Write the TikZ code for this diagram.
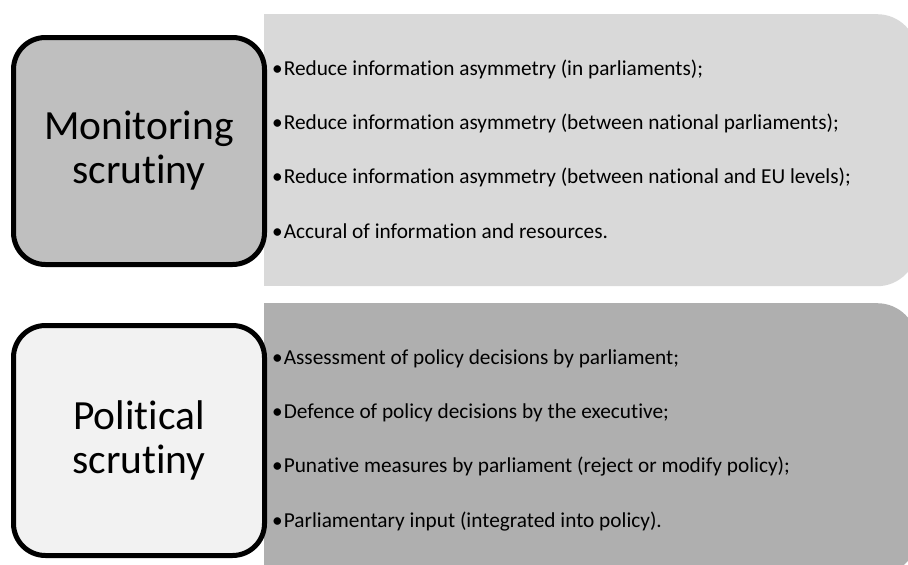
\documentclass[tikz,border=0pt]{standalone}
\usepackage{fontspec}
\setmainfont[Ligatures=NoCommon]{Carlito}
\usepackage{xcolor}
\usetikzlibrary{positioning}

\definecolor{monfill}{HTML}{BFBFBF}
\definecolor{monpanel}{HTML}{D9D9D9}
\definecolor{polfill}{HTML}{F2F2F2}
\definecolor{polpanel}{HTML}{AFAFAF}

\begin{document}
\begin{tikzpicture}[x=1pt, y=-1pt, node distance=37pt,
        scrutiny/.style={draw, line width=5pt, rounded corners=32pt, minimum width=251pt, align=center, font=\fontsize{41.5}{44}\selectfont},
        panel/.style={rounded corners=40pt, minimum width=653pt, minimum height=272pt, anchor=north west, inner sep=0pt},
        item/.style={anchor=west, inner sep=0pt, text height=13pt, text depth=4pt, font=\fontsize{21.3}{24}\selectfont}
    ]
        \path[use as bounding box, clip] (0,0) rectangle (908,565);

        % monitoring
        \node [panel, fill=monpanel] (monpan) at (264,14) {};
        \fill [monpanel] (monpan.north west) rectangle ([xshift=-60pt]monpan.south east);
        \node [scrutiny, fill=monfill, minimum height=227pt] (mon) at (139,151) {Monitoring\\scrutiny};

        \node [item] (mon1) at (272,70.5) {\textbullet\hspace{1pt}Reduce information asymmetry (in parliaments);};
        \node [item, below=of mon1.south west, anchor=north west] (mon2) {\textbullet\hspace{1pt}Reduce information asymmetry (between national parliaments);};
        \node [item, below=of mon2.south west, anchor=north west] (mon3) {\textbullet\hspace{1pt}Reduce information asymmetry (between national and EU levels);};
        \node [item, below=of mon3.south west, anchor=north west] (mon4) {\textbullet\hspace{1pt}Accural of information and resources.};

        % political
        \node [panel, fill=polpanel] (polpan) at (264,303) {};
        \fill [polpanel] (polpan.north west) rectangle ([xshift=-60pt]polpan.south east);
        \node [scrutiny, fill=polfill, minimum height=230pt] (pol) at (139,440.5) {Political\\scrutiny};

        \node [item] (pol1) at (272,359.5) {\textbullet\hspace{1pt}Assessment of policy decisions by parliament;};
        \node [item, below=of pol1.south west, anchor=north west] (pol2) {\textbullet\hspace{1pt}Defence of policy decisions by the executive;};
        \node [item, below=of pol2.south west, anchor=north west] (pol3) {\textbullet\hspace{1pt}Punative measures by parliament (reject or modify policy);};
        \node [item, below=of pol3.south west, anchor=north west] (pol4) {\textbullet\hspace{1pt}Parliamentary input (integrated into policy).};
    \end{tikzpicture}
\end{document}
